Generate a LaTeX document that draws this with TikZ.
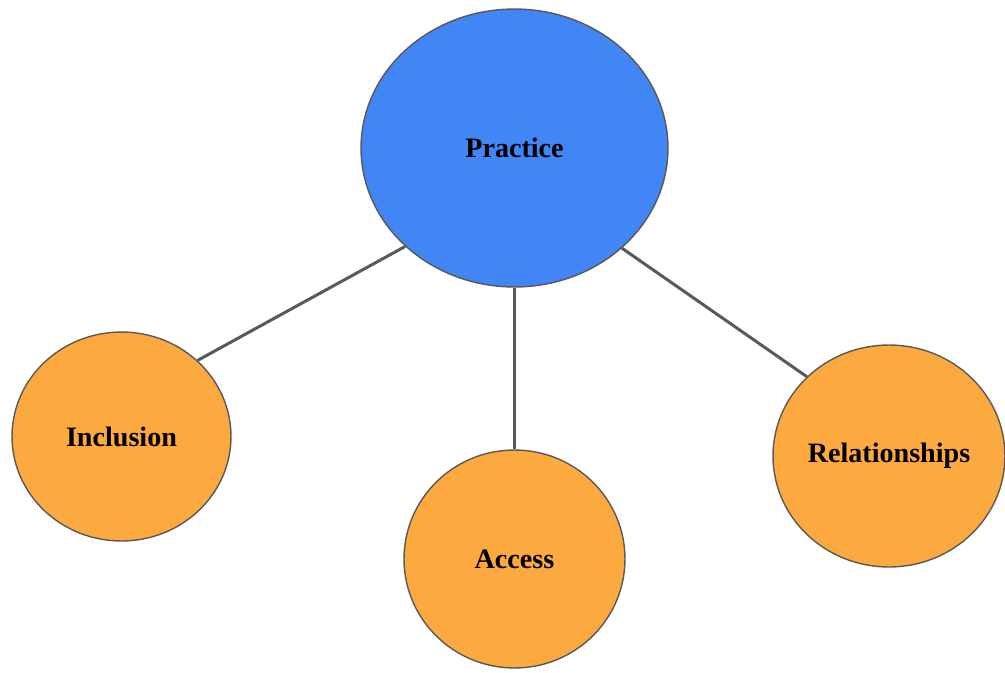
\documentclass[tikz,border=0pt]{standalone}
\usepackage{fontspec}
\setmainfont{Liberation Serif}
\usetikzlibrary{shapes.geometric}
\definecolor{topicblue}{HTML}{4285F4}
\definecolor{subtopic}{HTML}{FCA93F}
\definecolor{rim}{HTML}{595959}
\begin{document}
\begin{tikzpicture}[x=0.02cm, y=-0.02cm,
                    every node/.style={draw=rim, line width=0.8pt, ellipse, inner sep=0pt,
                                       font=\fontsize{16}{19}\selectfont\bfseries},
                    topic/.style={fill=topicblue},
                    sub/.style={fill=subtopic}
                    ]
                    \useasboundingbox (0,0) rectangle (1005,673);
                    \node[topic, minimum width=6.14cm, minimum height=5.56cm] (prac) at (514.5,148) {Practice};
                    \node[sub, minimum width=4.38cm, minimum height=4.18cm] (incl) at (121.5,436.5) {Inclusion};
                    \node[sub, minimum width=4.42cm, minimum height=4.36cm] (acc) at (514.5,559) {Access};
                    \node[sub, minimum width=4.64cm, minimum height=4.44cm] (rel) at (889,456) {Relationships};

                    \foreach \i/\j in {prac.222/incl.45,prac.south/acc.north,prac.317/rel.136}{
                        \draw[rim, line width=1.7pt] (\i) -- (\j);
                    }
                \end{tikzpicture}
\end{document}
